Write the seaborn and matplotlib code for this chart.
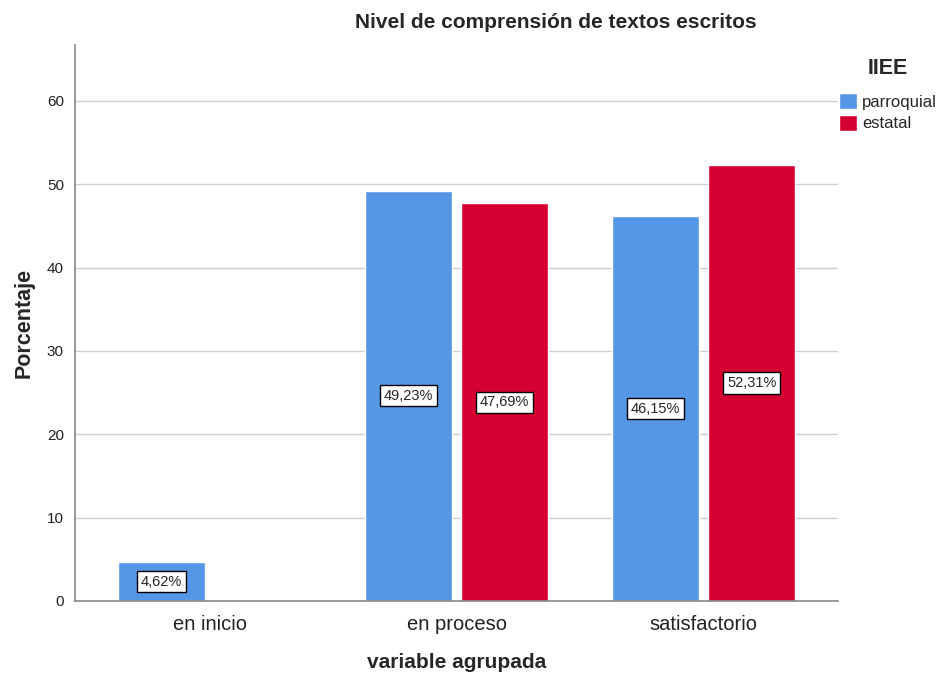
import matplotlib
matplotlib.use("Agg")
import matplotlib.pyplot as plt
import seaborn as sns
import pandas as pd

categories = ["en inicio", "en proceso", "satisfactorio"]
groups = ["parroquial", "estatal"]
parroquial = [4.62, 49.23, 46.15]
estatal = [None, 47.69, 52.31]
yticks = [0, 10, 20, 30, 40, 50, 60]

rows = []
for c, v in zip(categories, parroquial):
    if v is not None:
        rows.append({"cat": c, "IIEE": "parroquial", "pct": v})
for c, v in zip(categories, estatal):
    if v is not None:
        rows.append({"cat": c, "IIEE": "estatal", "pct": v})
df = pd.DataFrame(rows)

sns.set_style("white")
plt.rcParams["font.family"] = ["Liberation Sans", "DejaVu Sans"]

fig = plt.figure(figsize=(9.39, 6.80), dpi=100)
ax = fig.add_axes([75/939, 79/680, (838-75)/939, (601-45)/680])

palette = {"parroquial": "#5596E6", "estatal": "#D50032"}
sns.barplot(data=df, x="cat", y="pct", hue="IIEE", order=categories,
            hue_order=groups, palette=palette, width=0.78, gap=0.1,
            errorbar=None, saturation=1, ax=ax, legend=True)

for cont in ax.containers:
    labels = [f"{b.get_height():.2f}%".replace(".", ",") for b in cont]
    ax.bar_label(cont, labels=labels, label_type="center", fontsize=10.5,
                 bbox=dict(boxstyle="square,pad=0.25", fc="white", ec="black", lw=1.0))

ax.set_xlim(-0.545, 2.544)
ax.set_ylim(0, 66.7)
ax.set_yticks(yticks)
ax.yaxis.grid(True, color="#CFCFCF", lw=1)
ax.set_axisbelow(True)
ax.tick_params(axis="y", labelsize=11, length=0, pad=8, colors="#222222")
ax.tick_params(axis="x", labelsize=14.5, length=0, pad=10, colors="#222222")
for s in ["top", "right"]:
    ax.spines[s].set_visible(False)
for s in ["left", "bottom"]:
    ax.spines[s].set_color("#888888")
    ax.spines[s].set_linewidth(1.2)

ax.set_xlabel("variable agrupada", fontsize=15, fontweight="bold", labelpad=14)
ax.set_ylabel("Porcentaje", fontsize=15.5, fontweight="bold", labelpad=9)
fig.text(556/939, 1 - 22/680, "Nivel de comprensión de textos escritos",
         ha="center", va="center", fontsize=15, fontweight="bold")

leg = ax.legend(title="IIEE", loc="upper left", bbox_to_anchor=(839/939, 1 - 58/680),
                bbox_transform=fig.transFigure, frameon=False, fontsize=12,
                handlelength=1.1, handleheight=1.1, handletextpad=0.3,
                labelspacing=0.3, borderaxespad=0, borderpad=0)
leg.get_title().set_fontweight("bold")
leg.get_title().set_fontsize(15.5)
leg._legend_box.sep = 10

fig.savefig("out.png", dpi=100)
